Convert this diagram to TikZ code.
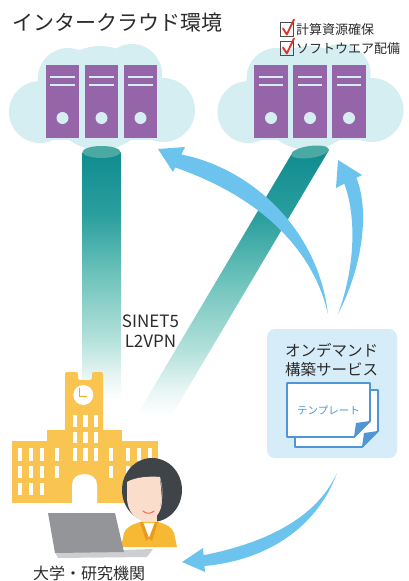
\documentclass[tikz,border=0pt]{standalone}
\usepackage{fontspec}
\setmainfont{Noto Sans CJK JP}
\definecolor{ink}{HTML}{2B2B2B}
\definecolor{cloud}{HTML}{D5EEF2}
\definecolor{server}{HTML}{9665A9}
\definecolor{tealA}{HTML}{0F8C8F}
\definecolor{tealB}{HTML}{2A9E9E}
\definecolor{tealC}{HTML}{6FC4BC}
\definecolor{tealD}{HTML}{B2E0DA}
\definecolor{tealE}{HTML}{E6F5F3}
\definecolor{tealtop}{HTML}{4AA9A3}
\definecolor{flow}{HTML}{6CC4EE}
\definecolor{panel}{HTML}{D6EDF9}
\definecolor{doc}{HTML}{4E96D5}
\definecolor{campus}{HTML}{F9C44F}
\definecolor{clockhand}{HTML}{E9AE2F}
\definecolor{hair}{HTML}{3E4447}
\definecolor{skin}{HTML}{FBDDCB}
\definecolor{shirt}{HTML}{F7B933}
\definecolor{lapel}{HTML}{EC9A1E}
\definecolor{screen}{HTML}{939598}
\definecolor{keys}{HTML}{CDCED0}
\definecolor{tick}{HTML}{E3342C}
\pgfdeclareverticalshading{tealfade}{100bp}{color(0bp)=(white); color(25bp)=(white); color(30bp)=(tealE); color(37.5bp)=(tealD); color(50bp)=(tealC); color(62.5bp)=(tealB); color(75bp)=(tealA); color(100bp)=(tealA)}
\tikzset{
  txt/.style={text=ink, inner sep=0pt},
  rack/.style={fill=server},
  slot/.style={draw=cloud, line width=2.4pt},
  flowarrow/.style={fill=flow},
  win/.style={fill=white},
  checkbox/.style={draw=ink!85, line width=0.9pt},
  checkmark/.style={draw=tick, line width=1.9pt, line join=round, line cap=round},
  sheet/.style={draw=doc, line width=1.8pt, fill=white, line join=round}
}
\begin{document}
\begin{tikzpicture}[x=1pt,y=-1pt]
\useasboundingbox (0,0) rectangle (408,581);

% title
\node[txt, anchor=west, font=\fontsize{21}{25}\selectfont] (title) at (12,23) {インタークラウド環境};

% two clouds with server racks
\foreach \dx/\nm in {0/L, 208.5/R}{
  \begin{scope}[xshift=\dx pt]
    \fill[cloud] (40,112) circle[radius=31pt];
    \fill[cloud] (163,110) circle[radius=32pt];
    \fill[cloud] (100,98) circle[radius=52pt];
    \fill[cloud] (68,78) circle[radius=30pt];
    \fill[cloud] (132,74) circle[radius=30pt];
    \fill[cloud] (42,100) rectangle (162,140);
    \foreach \i in {0,1,2}{
      \fill[rack] (45.7+39*\i,65) rectangle (79.3+39*\i,138);
      \draw[slot] (50.2+39*\i,77) -- (74.8+39*\i,77);
      \draw[slot] (50.2+39*\i,85) -- (74.8+39*\i,85);
      \fill[cloud] (62.5+39*\i,118) circle[radius=6pt];
    }
  \end{scope}
}

% check list
\draw[checkbox] (280.7,22.7) rectangle (293.3,36);
\draw[checkmark] (283,28.5) -- (286.8,34.5) -- (294,19.5);
\node[txt, anchor=west, font=\fontsize{13}{15}\selectfont] (res) at (296,29.5) {計算資源確保};
\draw[checkbox] (280.7,41.7) rectangle (293.3,55);
\draw[checkmark] (283,47.5) -- (286.8,53.5) -- (294,38.5);
\node[txt, anchor=west, font=\fontsize{13}{15}\selectfont] (sw) at (296,48.5) {ソフトウエア配備};

% SINET5 L2VPN links
\shade[shading=tealfade] (82.5,152) rectangle (120.5,400);
\shade[shading=tealfade] (291,155) -- (329,150) -- (172,415) -- (137,415) -- cycle;
\fill[tealtop] (101.5,152) ellipse[x radius=19pt, y radius=6pt];
\fill[tealtop, rotate around={8:(310,152)}] (310,152) ellipse[x radius=19pt, y radius=6pt];

\node[txt, align=center, font=\fontsize{17}{20}\selectfont] (vpn) at (150.5,331) {SINET5\\L2VPN};

% provisioning arrows
\fill[flowarrow] (181.4,154.5) .. controls (250,168) and (318,228) .. (328,314)
  .. controls (312,245) and (255,195) .. (175.2,167.5)
  -- (173,172) -- (158,149) -- (185,147) -- cycle;
\fill[flowarrow] (356.3,177.9) .. controls (368,205) and (366,260) .. (338,314)
  .. controls (356,265) and (356,215) .. (344.3,183.8)
  -- (336,188) -- (338,160) -- (362,175) -- cycle;
\fill[flowarrow] (203.6,555.2) .. controls (280,540) and (320,510) .. (337,473)
  .. controls (318,525) and (270,560) .. (204.5,566)
  -- (205,572) -- (182,562) -- (203,548) -- cycle;

% on-demand service panel
\fill[panel, rounded corners=8pt] (267,329) rectangle (397,458);
\node[txt, font=\fontsize{15.5}{18}\selectfont] (od1) at (331.5,350) {オンデマンド};
\node[txt, font=\fontsize{15.5}{18}\selectfont] (od2) at (331.5,369.5) {構築サービス};
\draw[sheet] (295,390) -- (378,390) -- (378,431) -- (362,447) -- (295,447) -- cycle;
\fill[doc] (378,431) -- (362,447) -- (364,433) -- cycle;
\draw[sheet] (287,383) -- (370,383) -- (370,421) -- (354,437) -- (287,437) -- cycle;
\fill[doc] (370,421) -- (354,437) -- (356,423) -- cycle;
\node[inner sep=0pt, text=doc, font=\fontsize{10.5}{12}\selectfont] (tpl) at (328.5,410) {テンプレート};

% university building
\fill[campus, rounded corners=2pt] (65,440) -- (65,372) -- (78,372) -- (78,380) -- (92,380) -- (92,372) -- (103,372) -- (103,440) -- cycle;
\fill[campus] (47,430) rectangle (122,503);
\fill[campus] (12,441) rectangle (158,503);
\fill[white] (83.3,395) circle[radius=10pt];
\draw[clockhand, line width=1.3pt] (79.5,387.5) -- (79.5,396.5) -- (87,396.5);
\foreach \x in {72.7,83.3,93.5}{
  \foreach \y/\h in {415/12,432/11,448/13}{
    \fill[win] (\x,\y) rectangle ++(4.2,\h);
  }
}
\foreach \x in {18,29,40,126,137,148}{
  \foreach \y/\h in {448/13,466/12,483/12}{
    \fill[win] (\x,\y) rectangle ++(4.2,\h);
  }
}
\foreach \x in {55,108.5}{
  \foreach \y/\h in {448/13,466/12}{
    \fill[win] (\x,\y) rectangle ++(4.2,\h);
  }
}
\fill[white] (72,503) -- (72,484.5) .. controls (72,470.5) and (97,470.5) .. (97,484.5) -- (97,503) -- cycle;

% researcher
\fill[hair] (152,490) ellipse[x radius=30pt, y radius=32pt];
\fill[skin] (141,512) rectangle (157,527);
\fill[skin] (127,482) .. controls (135,477) and (150,476) .. (160,477) -- (162,500)
  .. controls (162,512) and (155,521) .. (146,521) .. controls (135,521) and (127,510) .. (127,498) -- cycle;
\draw[black!25, line width=0.5pt] (160,478) .. controls (163,488) and (163,498) .. (160,506);
\draw[tick!80, line width=0.9pt, line cap=round] (143,511) .. controls (146,514) and (151,514) .. (154,511);
\fill[shirt] (121,547) -- (124,533) .. controls (126,527) and (133,524) .. (140,522) -- (158,522)
  .. controls (166,524) and (172,527) .. (174,533) -- (177,547) -- cycle;
\fill[white] (142,523) -- (149,538) -- (156,523) -- cycle;
\fill[lapel] (140,522) -- (143,522) -- (149,538) -- (146,541) -- cycle;
\fill[lapel] (158,522) -- (155,522) -- (149,538) -- (152,541) -- cycle;

% laptop
\fill[keys] (55,552) -- (153,549) -- (147,557) -- (58,558) -- cycle;
\fill[screen] (48,513) -- (115,513) -- (124,552) -- (55,553) -- cycle;

\node[txt, font=\fontsize{16}{18}\selectfont] (uni) at (89,573) {大学・研究機関};
\end{tikzpicture}
\end{document}
